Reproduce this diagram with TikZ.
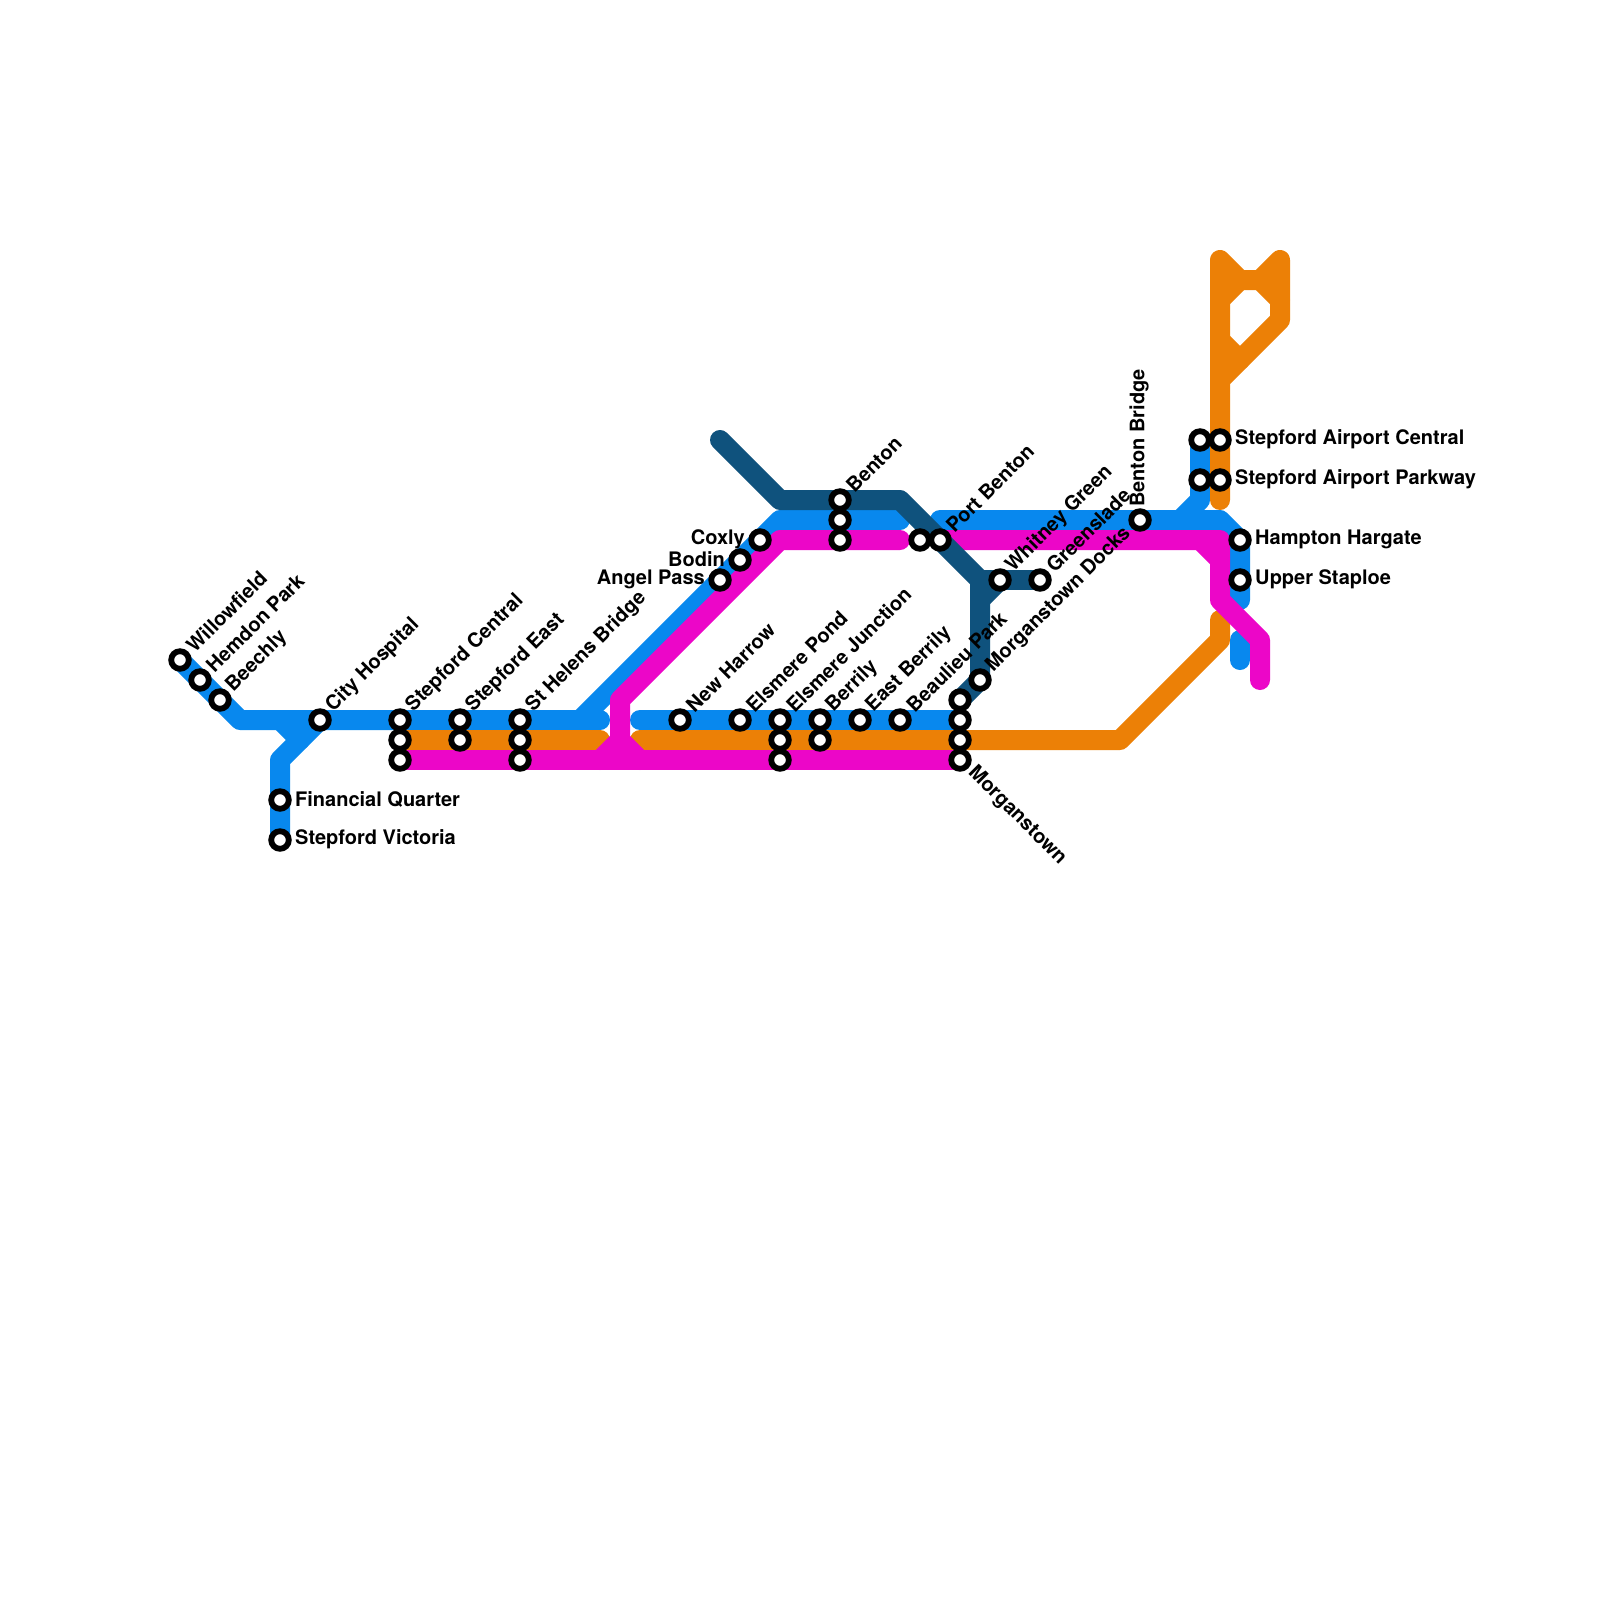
\documentclass[tikz,border=0pt]{standalone}
\usepackage{fontspec}
\setmainfont{TeX Gyre Heros}
\usetikzlibrary{backgrounds}
\definecolor{lblue}{HTML}{0888EE}
\definecolor{lorange}{HTML}{EC8006}
\definecolor{lpink}{HTML}{EC06C8}
\definecolor{ldark}{HTML}{0F527D}
\tikzset{
  stop/.style={circle,draw=black,fill=white,line width=5.8pt,minimum size=17.6pt,inner sep=0pt,outer sep=0pt},
  tag/.style={font=\fontsize{20}{24}\selectfont\bfseries,inner sep=0pt,text=black},
  upr/.style={tag,xshift=9.5pt,yshift=11.2pt,rotate=45,anchor=west},
  dnr/.style={tag,xshift=11pt,yshift=-9.7pt,rotate=-45,anchor=west},
  rgt/.style={tag,xshift=15pt,yshift=0.5pt,anchor=west},
  lft/.style={tag,xshift=-15pt,yshift=1pt,anchor=east},
  vrt/.style={tag,xshift=-1pt,yshift=13pt,rotate=90,anchor=west},
  route/.style={line width=20pt,line cap=round,line join=round},
}
\begin{document}
\begin{tikzpicture}[x=1pt,y=-1pt]
\useasboundingbox (0,0) rectangle (1600,1600);
% stations
\node[stop] (willow) at (180,660) {};
\node[stop] (hemdon) at (200,680) {};
\node[stop] (beech) at (220,700) {};
\node[stop] (city) at (320,720) {};
\node[stop] (fin) at (280,800) {};
\node[stop] (vic) at (280,840) {};
\node[stop] (sc1) at (400,720) {};
\node[stop] (sc2) at (400,740) {};
\node[stop] (sc3) at (400,760) {};
\node[stop] (se1) at (460,720) {};
\node[stop] (se2) at (460,740) {};
\node[stop] (sh1) at (520,720) {};
\node[stop] (sh2) at (520,740) {};
\node[stop] (sh3) at (520,760) {};
\node[stop] (angel) at (720,580) {};
\node[stop] (bodin) at (740,560) {};
\node[stop] (coxly) at (760,540) {};
\node[stop] (newh) at (680,720) {};
\node[stop] (epond) at (740,720) {};
\node[stop] (ej1) at (780,720) {};
\node[stop] (ej2) at (780,740) {};
\node[stop] (ej3) at (780,760) {};
\node[stop] (ber1) at (820,720) {};
\node[stop] (ber2) at (820,740) {};
\node[stop] (eber) at (860,720) {};
\node[stop] (beau) at (900,720) {};
\node[stop] (ben1) at (840,500) {};
\node[stop] (ben2) at (840,520) {};
\node[stop] (ben3) at (840,540) {};
\node[stop] (pb1) at (920,540) {};
\node[stop] (pb2) at (940,540) {};
\node[stop] (mg1) at (960,700) {};
\node[stop] (mg2) at (960,720) {};
\node[stop] (mg3) at (960,740) {};
\node[stop] (mg4) at (960,760) {};
\node[stop] (docks) at (980,680) {};
\node[stop] (whit) at (1000,580) {};
\node[stop] (green) at (1040,580) {};
\node[stop] (bbr) at (1140,520) {};
\node[stop] (ac1) at (1200,440) {};
\node[stop] (ac2) at (1220,440) {};
\node[stop] (ap1) at (1200,480) {};
\node[stop] (ap2) at (1220,480) {};
\node[stop] (hamp) at (1240,540) {};
\node[stop] (upper) at (1240,580) {};
% labels
\node[upr] (twillow) at (willow.center) {Willowfield};
\node[upr] (themdon) at (hemdon.center) {Hemdon Park};
\node[upr] (tbeech) at (beech.center) {Beechly};
\node[upr] (tcity) at (city.center) {City Hospital};
\node[rgt] (tfin) at (fin.center) {Financial Quarter};
\node[rgt] (tvic) at (vic.center) {Stepford Victoria};
\node[upr] (tsc) at (sc1.center) {Stepford Central};
\node[upr] (tse) at (se1.center) {Stepford East};
\node[upr] (tsh) at (sh1.center) {St Helens Bridge};
\node[lft] (tangel) at (angel.center) {Angel Pass};
\node[lft] (tbodin) at (bodin.center) {Bodin};
\node[lft] (tcoxly) at (coxly.center) {Coxly};
\node[upr] (tnewh) at (newh.center) {New Harrow};
\node[upr] (tepond) at (epond.center) {Elsmere Pond};
\node[upr] (tej) at (ej1.center) {Elsmere Junction};
\node[upr] (tber) at (ber1.center) {Berrily};
\node[upr] (teber) at (eber.center) {East Berrily};
\node[upr] (tbeau) at (beau.center) {Beaulieu Park};
\node[upr] (tben) at (ben1.center) {Benton};
\node[upr] (tpb) at (pb2.center) {Port Benton};
\node[dnr] (tmg) at (mg4.center) {Morganstown};
\node[upr] (tdocks) at (docks.center) {Morganstown Docks};
\node[upr] (twhit) at (whit.center) {Whitney Green};
\node[upr] (tgreen) at (green.center) {Greenslade};
\node[vrt] (tbbr) at (bbr.center) {Benton Bridge};
\node[rgt] (tac) at (ac2.center) {Stepford Airport Central};
\node[rgt] (tap) at (ap2.center) {Stepford Airport Parkway};
\node[rgt] (thamp) at (hamp.center) {Hampton Hargate};
\node[rgt] (tupper) at (upper.center) {Upper Staploe};
% way points
\coordinate (b1) at (240,720);
\coordinate (b2) at (600,720);
\coordinate (b3) at (580,720);
\coordinate (b4) at (780,520);
\coordinate (b5) at (900,520);
\coordinate (b6) at (280,720);
\coordinate (b7) at (300,740);
\coordinate (b8) at (280,760);
\coordinate (b9) at (640,720);
\coordinate (b10) at (940,520);
\coordinate (b11) at (1220,520);
\coordinate (b12) at (1240,600);
\coordinate (b13) at (1200,500);
\coordinate (b14) at (1180,520);
\coordinate (b15) at (1240,640);
\coordinate (b16) at (1240,660);
\coordinate (o1) at (600,740);
\coordinate (o2) at (640,740);
\coordinate (o3) at (1120,740);
\coordinate (o4) at (1220,640);
\coordinate (o5) at (1220,620);
\coordinate (o6) at (1220,500);
\coordinate (o7) at (1220,260);
\coordinate (o8) at (1240,280);
\coordinate (o9) at (1260,280);
\coordinate (o10) at (1280,260);
\coordinate (o11) at (1280,320);
\coordinate (o12) at (1220,380);
\coordinate (o13) at (1220,300);
\coordinate (o14) at (1280,300);
\coordinate (o15) at (1220,340);
\coordinate (o16) at (1240,360);
\coordinate (p1) at (600,760);
\coordinate (p2) at (620,740);
\coordinate (p3) at (640,760);
\coordinate (p4) at (620,700);
\coordinate (p5) at (780,540);
\coordinate (p6) at (900,540);
\coordinate (p7) at (1220,540);
\coordinate (p8) at (1200,540);
\coordinate (p9) at (1220,560);
\coordinate (p10) at (1220,600);
\coordinate (p11) at (1260,640);
\coordinate (p12) at (1260,680);
\coordinate (d1) at (720,440);
\coordinate (d2) at (780,500);
\coordinate (d3) at (900,500);
\coordinate (d4) at (980,580);
\coordinate (d5) at (980,600);
\begin{pgfonlayer}{background}
\fill[white] (0,0) rectangle (1600,1600);
% blue
\draw[route,lblue] (willow.center) -- (b1) -- (b2);
\draw[route,lblue] (b3) -- (b4) -- (b5);
\draw[route,lblue] (b6) -- (b7);
\draw[route,lblue] (vic.center) -- (b8) -- (city.center);
\draw[route,lblue] (b9) -- (mg2.center);
\draw[route,lblue] (b10) -- (b11) -- (hamp.center) -- (b12);
\draw[route,lblue] (ac1.center) -- (b13) -- (b14);
\draw[route,lblue] (b15) -- (b16);
% orange
\draw[route,lorange] (sc2.center) -- (o1);
\draw[route,lorange] (o2) -- (o3) -- (o4) -- (o5);
\draw[route,lorange] (o6) -- (o7) -- (o8) -- (o9) -- (o10) -- (o11) -- (o12);
\draw[route,lorange] (o13) -- (o8);
\draw[route,lorange] (o9) -- (o14);
\draw[route,lorange] (o15) -- (o16);
% pink
\draw[route,lpink] (sc3.center) -- (mg4.center);
\draw[route,lpink] (p1) -- (p2) -- (p3);
\draw[route,lpink] (p2) -- (p4) -- (p5) -- (p6);
\draw[route,lpink] (pb2.center) -- (p7) -- (p10) -- (p11) -- (p12);
\draw[route,lpink] (p8) -- (p9);
% dark
\draw[route,ldark] (d1) -- (d2) -- (d3) -- (d4) -- (docks.center) -- (mg1.center);
\draw[route,ldark] (d4) -- (green.center);
\draw[route,ldark] (whit.center) -- (d5);
\end{pgfonlayer}
\end{tikzpicture}
\end{document}
